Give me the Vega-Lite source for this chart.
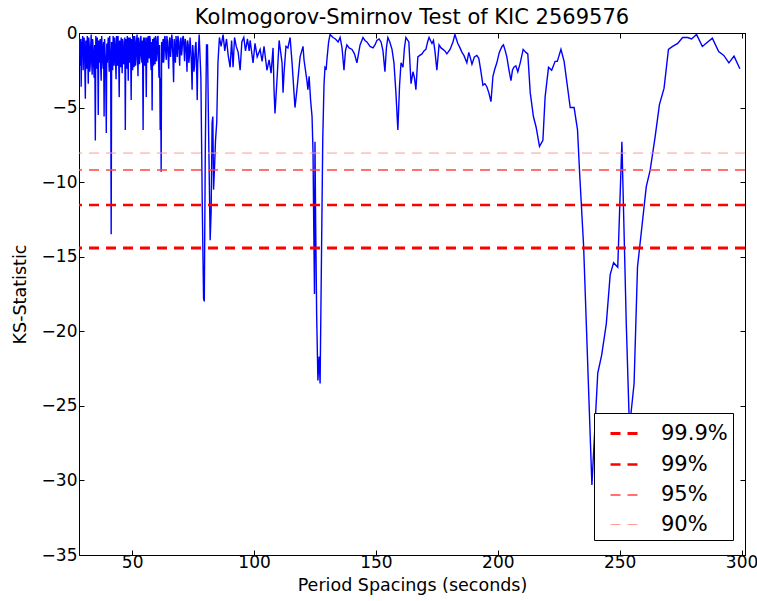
{
  "$schema": "https://vega.github.io/schema/vega-lite/v6.json",
  "width": 666,
  "height": 522,
  "autosize": "none",
  "padding": {"left": 79, "top": 33, "right": 12, "bottom": 46},
  "background": "white",
  "title": {"text": "Kolmogorov-Smirnov Test of KIC 2569576", "fontSize": 21, "font": "DejaVu Sans", "fontWeight": "normal", "color": "black", "offset": -4},
  "config": {
    "view": {"stroke": "black", "strokeWidth": 1},
    "axis": {"grid": false, "labelFont": "DejaVu Sans", "labelFontSize": 17, "labelColor": "black", "titleFont": "DejaVu Sans", "titleFontSize": 17.5, "titleFontWeight": "normal", "titleColor": "black", "domainColor": "black", "tickColor": "black", "tickSize": -5}
  },
  "datasets": {
    "ks": [
      {"p":28.4,"k":-0.3},{"p":28.6,"k":-1.5},{"p":28.8,"k":-2.2},{"p":28.95,"k":-0.4},{"p":29.1,"k":-3.6},{"p":29.3,"k":-0.6},{"p":29.5,"k":-1.0},{"p":29.7,"k":-0.2},{"p":29.9,"k":-2.5},{"p":30.1,"k":-1.1},{"p":30.3,"k":-0.3},{"p":30.55,"k":-1.8},{"p":30.8,"k":-4.4},{"p":31.0,"k":-0.5},{"p":31.2,"k":-1.2},{"p":31.4,"k":-2.4},{"p":31.6,"k":-0.2},{"p":31.8,"k":-1.4},{"p":32.0,"k":-3.4},{"p":32.2,"k":-0.3},{"p":32.4,"k":-0.8},{"p":32.6,"k":-2.6},{"p":32.8,"k":-2.2},{"p":33.0,"k":-0.9},{"p":33.2,"k":-0.1},{"p":33.4,"k":-1.9},{"p":33.6,"k":-2.8},{"p":33.8,"k":-0.4},{"p":34.0,"k":-1.0},{"p":34.2,"k":-2.1},{"p":34.4,"k":-3.0},{"p":34.65,"k":-0.8},{"p":34.9,"k":-7.2},{"p":35.1,"k":-0.2},{"p":35.3,"k":-1.5},{"p":35.5,"k":-2.4},{"p":35.7,"k":-0.3},{"p":35.9,"k":-1.6},{"p":36.1,"k":-5.5},{"p":36.3,"k":-0.5},{"p":36.5,"k":-2.0},{"p":36.7,"k":-1.2},{"p":36.9,"k":-0.4},{"p":37.1,"k":-2.3},{"p":37.3,"k":-3.2},{"p":37.5,"k":-0.2},{"p":37.7,"k":-0.9},{"p":37.9,"k":-1.8},{"p":38.1,"k":-2.4},{"p":38.3,"k":-0.6},{"p":38.5,"k":-5.6},{"p":38.7,"k":-0.4},{"p":38.9,"k":-1.3},{"p":39.15,"k":-2.2},{"p":39.4,"k":-6.7},{"p":39.6,"k":-0.7},{"p":39.8,"k":-2.0},{"p":40.0,"k":-1.0},{"p":40.2,"k":-0.3},{"p":40.4,"k":-1.7},{"p":40.6,"k":-2.6},{"p":40.8,"k":-0.2},{"p":41.0,"k":-1.2},{"p":41.2,"k":-2.0},{"p":41.4,"k":-13.5},{"p":41.6,"k":-0.6},{"p":41.8,"k":-1.8},{"p":42.0,"k":-2.5},{"p":42.2,"k":-0.2},{"p":42.4,"k":-1.1},{"p":42.6,"k":-2.2},{"p":42.8,"k":-0.3},{"p":43.0,"k":-0.8},{"p":43.2,"k":-1.9},{"p":43.4,"k":-3.1},{"p":43.6,"k":-0.2},{"p":43.8,"k":-1.0},{"p":44.0,"k":-2.2},{"p":44.2,"k":-0.2},{"p":44.45,"k":-1.3},{"p":44.7,"k":-4.3},{"p":44.9,"k":-0.5},{"p":45.1,"k":-1.4},{"p":45.3,"k":-2.3},{"p":45.5,"k":-0.3},{"p":45.7,"k":-1.0},{"p":45.9,"k":-2.7},{"p":46.1,"k":-0.4},{"p":46.3,"k":-0.6},{"p":46.55,"k":-2.1},{"p":46.8,"k":-1.9},{"p":47.0,"k":-0.3},{"p":47.2,"k":-6.5},{"p":47.4,"k":-0.4},{"p":47.6,"k":-1.2},{"p":47.8,"k":-2.4},{"p":48.0,"k":-0.2},{"p":48.2,"k":-1.2},{"p":48.4,"k":-3.2},{"p":48.6,"k":-0.3},{"p":48.8,"k":-1.0},{"p":49.0,"k":-2.0},{"p":49.2,"k":-0.3},{"p":49.4,"k":-1.4},{"p":49.6,"k":-4.5},{"p":49.8,"k":-0.4},{"p":50.0,"k":-1.5},{"p":50.2,"k":-2.5},{"p":50.4,"k":-0.2},{"p":50.6,"k":-1.0},{"p":50.8,"k":-2.3},{"p":51.0,"k":-0.2},{"p":51.2,"k":-0.5},{"p":51.4,"k":-2.2},{"p":51.6,"k":-1.8},{"p":51.8,"k":-0.6},{"p":52.0,"k":-0.1},{"p":52.2,"k":-1.4},{"p":52.4,"k":-2.9},{"p":52.6,"k":-0.3},{"p":52.8,"k":-0.7},{"p":53.0,"k":-2.1},{"p":53.2,"k":-1.6},{"p":53.4,"k":-0.4},{"p":53.6,"k":-0.2},{"p":53.8,"k":-1.5},{"p":54.0,"k":-2.0},{"p":54.25,"k":-0.5},{"p":54.5,"k":-6.5},{"p":54.7,"k":-0.3},{"p":54.9,"k":-1.1},{"p":55.1,"k":-2.2},{"p":55.3,"k":-0.3},{"p":55.55,"k":-1.1},{"p":55.8,"k":-4.3},{"p":56.0,"k":-0.3},{"p":56.2,"k":-1.0},{"p":56.4,"k":-2.0},{"p":56.6,"k":-0.2},{"p":56.8,"k":-0.9},{"p":57.0,"k":-1.7},{"p":57.2,"k":-0.2},{"p":57.4,"k":-0.4},{"p":57.6,"k":-1.9},{"p":57.8,"k":-2.5},{"p":58.0,"k":-0.6},{"p":58.2,"k":-5.2},{"p":58.4,"k":-0.4},{"p":58.6,"k":-1.3},{"p":58.8,"k":-2.2},{"p":59.0,"k":-0.3},{"p":59.2,"k":-0.8},{"p":59.4,"k":-2.1},{"p":59.6,"k":-0.2},{"p":59.8,"k":-0.6},{"p":60.0,"k":-1.9},{"p":60.2,"k":-1.4},{"p":60.4,"k":-0.3},{"p":60.6,"k":-0.2},{"p":60.8,"k":-1.5},{"p":61.0,"k":-3.0},{"p":61.25,"k":-0.8},{"p":61.5,"k":-6.5},{"p":61.7,"k":-3.0},{"p":61.9,"k":-9.3},{"p":62.1,"k":-0.6},{"p":62.3,"k":-2.0},{"p":62.5,"k":-1.0},{"p":62.7,"k":-0.4},{"p":62.9,"k":-2.0},{"p":63.1,"k":-1.5},{"p":63.3,"k":-0.3},{"p":63.5,"k":-0.2},{"p":63.75,"k":-1.2},{"p":64.0,"k":-1.8},{"p":64.25,"k":-0.2},{"p":64.5,"k":-0.6},{"p":64.75,"k":-1.5},{"p":65.0,"k":-2.4},{"p":65.25,"k":-0.5},{"p":65.5,"k":-0.3},{"p":65.75,"k":-1.6},{"p":66.0,"k":-1.0},{"p":66.25,"k":-0.1},{"p":66.5,"k":-0.5},{"p":66.75,"k":-1.8},{"p":67.0,"k":-3.3},{"p":67.25,"k":-0.4},{"p":67.5,"k":-1.2},{"p":67.75,"k":-2.0},{"p":68.0,"k":-0.2},{"p":68.25,"k":-0.9},{"p":68.5,"k":-1.6},{"p":68.75,"k":-0.2},{"p":69.0,"k":-0.4},{"p":69.25,"k":-1.3},{"p":69.5,"k":-2.2},{"p":69.75,"k":-0.6},{"p":70.0,"k":-0.3},{"p":70.25,"k":-1.5},{"p":70.5,"k":-1.1},{"p":70.75,"k":-0.3},{"p":71.0,"k":-0.2},{"p":71.25,"k":-1.0},{"p":71.5,"k":-1.9},{"p":71.75,"k":-0.4},{"p":72.0,"k":-0.6},{"p":72.25,"k":-1.4},{"p":72.5,"k":-2.6},{"p":72.75,"k":-0.5},{"p":73.0,"k":-0.8},{"p":73.25,"k":-2.0},{"p":73.5,"k":-1.5},{"p":73.75,"k":-0.3},{"p":74.0,"k":-0.9},{"p":74.3,"k":-2.0},{"p":74.6,"k":-3.8},{"p":74.85,"k":-0.8},{"p":75.1,"k":-1.4},{"p":75.35,"k":-2.6},{"p":75.6,"k":-2.2},{"p":75.9,"k":-0.9},{"p":76.2,"k":-0.6},{"p":76.45,"k":-2.4},{"p":76.7,"k":-4.5},{"p":76.9,"k":-2.0},{"p":77.1,"k":-1.5},{"p":77.5,"k":-0.1},{"p":78.2,"k":-3.0},{"p":78.8,"k":-12.0},{"p":79.3,"k":-17.8},{"p":79.6,"k":-18.0},{"p":80.0,"k":-8.0},{"p":80.5,"k":-0.8},{"p":80.9,"k":-0.8},{"p":81.4,"k":-7.0},{"p":82.0,"k":-13.9},{"p":82.4,"k":-12.0},{"p":82.8,"k":-6.0},{"p":83.1,"k":-5.6},{"p":83.4,"k":-10.5},{"p":83.8,"k":-9.0},{"p":84.2,"k":-7.2},{"p":84.7,"k":-6.0},{"p":85.2,"k":-2.0},{"p":85.8,"k":-0.3},{"p":86.5,"k":-0.9},{"p":87.3,"k":-0.1},{"p":88.0,"k":-1.2},{"p":88.7,"k":-0.4},{"p":89.4,"k":-1.5},{"p":90.2,"k":-2.3},{"p":90.8,"k":-0.5},{"p":91.4,"k":-2.3},{"p":92.0,"k":-0.3},{"p":92.7,"k":-0.9},{"p":93.5,"k":-1.3},{"p":94.3,"k":-2.5},{"p":95.0,"k":-0.6},{"p":95.8,"k":-0.3},{"p":96.5,"k":-1.2},{"p":97.3,"k":-0.4},{"p":98.0,"k":-1.2},{"p":98.4,"k":-0.5},{"p":99.6,"k":-2.0},{"p":100.4,"k":-0.7},{"p":101.3,"k":-1.6},{"p":102.5,"k":-1.1},{"p":103.3,"k":-1.9},{"p":104.1,"k":-0.9},{"p":105.3,"k":-2.5},{"p":106.2,"k":-1.8},{"p":107.0,"k":-2.7},{"p":107.8,"k":-1.0},{"p":108.2,"k":-3.8},{"p":108.6,"k":-5.4},{"p":109.5,"k":-2.9},{"p":110.3,"k":-0.5},{"p":111.5,"k":-2.0},{"p":111.9,"k":-4.0},{"p":112.3,"k":-2.7},{"p":113.1,"k":-0.9},{"p":113.9,"k":-1.0},{"p":114.8,"k":-0.3},{"p":115.6,"k":-2.0},{"p":116.8,"k":-5.0},{"p":117.6,"k":-3.8},{"p":118.9,"k":-1.6},{"p":120.1,"k":-0.9},{"p":120.5,"k":-1.8},{"p":121.7,"k":-3.2},{"p":122.1,"k":-3.8},{"p":122.6,"k":-2.9},{"p":123.2,"k":-4.5},{"p":123.8,"k":-5.6},{"p":124.2,"k":-8.0},{"p":124.5,"k":-13.0},{"p":124.8,"k":-17.5},{"p":125.0,"k":-7.3},{"p":125.3,"k":-13.0},{"p":125.7,"k":-19.0},{"p":126.2,"k":-23.3},{"p":126.7,"k":-21.7},{"p":127.1,"k":-23.5},{"p":127.6,"k":-16.0},{"p":128.2,"k":-7.0},{"p":128.7,"k":-3.5},{"p":129.1,"k":-2.3},{"p":129.6,"k":-2.4},{"p":130.0,"k":-1.6},{"p":130.6,"k":-0.6},{"p":131.2,"k":-0.1},{"p":131.8,"k":-0.2},{"p":132.4,"k":-0.3},{"p":133.4,"k":-0.4},{"p":134.5,"k":-0.6},{"p":135.3,"k":-0.3},{"p":136.1,"k":-1.0},{"p":136.9,"k":-2.5},{"p":137.5,"k":-1.2},{"p":138.1,"k":-0.8},{"p":139.0,"k":-1.0},{"p":140.2,"k":-1.1},{"p":141.2,"k":-1.4},{"p":142.2,"k":-2.0},{"p":143.5,"k":-0.8},{"p":144.7,"k":-0.3},{"p":145.5,"k":-0.5},{"p":146.3,"k":-0.6},{"p":147.6,"k":-0.9},{"p":148.8,"k":-1.0},{"p":149.6,"k":-0.8},{"p":150.4,"k":-0.5},{"p":151.3,"k":-0.4},{"p":152.1,"k":-0.6},{"p":152.9,"k":-1.2},{"p":153.7,"k":-2.6},{"p":154.3,"k":-1.0},{"p":154.9,"k":-0.3},{"p":155.7,"k":-0.6},{"p":156.6,"k":-1.1},{"p":157.4,"k":-2.0},{"p":158.2,"k":-4.0},{"p":159.0,"k":-6.5},{"p":159.7,"k":-3.5},{"p":160.3,"k":-2.0},{"p":161.1,"k":-2.3},{"p":161.7,"k":-1.0},{"p":162.3,"k":-0.3},{"p":163.5,"k":-0.6},{"p":164.4,"k":-3.4},{"p":165.2,"k":-2.6},{"p":165.8,"k":-3.0},{"p":166.4,"k":-3.8},{"p":167.2,"k":-1.6},{"p":168.0,"k":-1.5},{"p":168.9,"k":-1.4},{"p":169.7,"k":-1.2},{"p":170.5,"k":-1.1},{"p":171.2,"k":-0.6},{"p":171.8,"k":-0.3},{"p":172.4,"k":-0.5},{"p":173.0,"k":-0.7},{"p":173.6,"k":-0.5},{"p":174.2,"k":-1.2},{"p":175.0,"k":-2.5},{"p":175.9,"k":-0.8},{"p":176.7,"k":-1.0},{"p":177.5,"k":-1.1},{"p":178.3,"k":-1.2},{"p":179.1,"k":-1.4},{"p":180.4,"k":-1.1},{"p":181.6,"k":-0.6},{"p":182.4,"k":-0.1},{"p":183.6,"k":-0.7},{"p":184.5,"k":-1.0},{"p":185.3,"k":-1.3},{"p":186.1,"k":-1.5},{"p":187.3,"k":-2.0},{"p":188.1,"k":-1.3},{"p":188.8,"k":-1.7},{"p":189.4,"k":-2.1},{"p":190.4,"k":-1.6},{"p":191.4,"k":-1.5},{"p":192.2,"k":-1.7},{"p":193.0,"k":-2.5},{"p":193.9,"k":-3.5},{"p":194.7,"k":-3.4},{"p":195.5,"k":-3.6},{"p":196.3,"k":-4.0},{"p":197.2,"k":-4.6},{"p":198.0,"k":-2.9},{"p":198.8,"k":-2.4},{"p":199.6,"k":-2.0},{"p":200.6,"k":-1.3},{"p":201.7,"k":-0.9},{"p":202.3,"k":-0.8},{"p":202.9,"k":-1.1},{"p":203.7,"k":-1.6},{"p":204.6,"k":-2.5},{"p":205.4,"k":-3.2},{"p":206.0,"k":-2.5},{"p":206.6,"k":-2.3},{"p":207.4,"k":-2.2},{"p":208.2,"k":-2.6},{"p":209.2,"k":-2.0},{"p":210.4,"k":-1.1},{"p":211.5,"k":-1.3},{"p":212.3,"k":-1.4},{"p":213.3,"k":-4.0},{"p":214.6,"k":-5.6},{"p":215.7,"k":-6.3},{"p":217.1,"k":-7.6},{"p":218.5,"k":-7.2},{"p":219.4,"k":-4.3},{"p":220.8,"k":-2.3},{"p":222.1,"k":-2.5},{"p":223.5,"k":-1.9},{"p":224.4,"k":-1.9},{"p":225.9,"k":-1.1},{"p":227.2,"k":-1.9},{"p":229.7,"k":-5.0},{"p":231.3,"k":-5.0},{"p":232.7,"k":-6.5},{"p":233.6,"k":-9.5},{"p":235.2,"k":-14.3},{"p":238.6,"k":-30.3},{"p":241.0,"k":-22.8},{"p":242.6,"k":-21.6},{"p":244.5,"k":-19.5},{"p":246.1,"k":-16.2},{"p":247.5,"k":-15.4},{"p":249.2,"k":-15.7},{"p":250.9,"k":-7.3},{"p":252.7,"k":-19.5},{"p":254.0,"k":-26.5},{"p":255.9,"k":-23.5},{"p":257.3,"k":-15.7},{"p":260.9,"k":-10.3},{"p":262.5,"k":-9.2},{"p":264.5,"k":-7.0},{"p":266.3,"k":-4.8},{"p":268.2,"k":-3.7},{"p":270.0,"k":-1.1},{"p":271.7,"k":-0.9},{"p":273.8,"k":-0.7},{"p":275.8,"k":-0.3},{"p":277.9,"k":-0.3},{"p":279.5,"k":-0.4},{"p":281.5,"k":-0.1},{"p":283.9,"k":-0.9},{"p":288.0,"k":-0.35},{"p":290.6,"k":-1.25},{"p":292.7,"k":-1.5},{"p":294.8,"k":-2.0},{"p":296.9,"k":-1.55},{"p":299.3,"k":-2.4}
    ],
    "thr": [
      {"level": "99.9%", "v": -14.42},
      {"level": "99%", "v": -11.54},
      {"level": "95%", "v": -9.19},
      {"level": "90%", "v": -8.05}
    ]
  },
  "layer": [
    {
      "data": {"name": "ks"},
      "mark": {"type": "line", "color": "#0000ff", "strokeWidth": 1.4, "clip": true},
      "encoding": {
        "x": {"field": "p", "type": "quantitative", "scale": {"domain": [28.2, 301.4], "nice": false, "zero": false},
              "axis": {"orient": "bottom", "values": [50, 100, 150, 200, 250, 300], "title": "Period Spacings (seconds)", "labelPadding": 4, "titlePadding": 6}},
        "y": {"field": "k", "type": "quantitative", "scale": {"domain": [-35, 0], "nice": false, "zero": false},
              "axis": {"orient": "left", "values": [0, -5, -10, -15, -20, -25, -30, -35], "title": "KS-Statistic", "labelPadding": 7, "titlePadding": 12}}
      }
    },
    {
      "data": {"name": "ks"},
      "mark": {"type": "line", "opacity": 0},
      "encoding": {
        "x": {"field": "p", "type": "quantitative", "axis": {"orient": "top", "values": [50, 100, 150, 200, 250, 300], "labels": false, "title": null}},
        "y": {"field": "k", "type": "quantitative", "axis": {"orient": "right", "values": [0, -5, -10, -15, -20, -25, -30, -35], "labels": false, "title": null}}
      }
    },
    {
      "data": {"name": "thr"},
      "mark": {"type": "rule", "strokeDash": [10, 7]},
      "encoding": {
        "y": {"field": "v", "type": "quantitative", "axis": null},
        "color": {"field": "level", "type": "nominal",
                  "scale": {"domain": ["99.9%", "99%", "95%", "90%"], "range": ["#ff0000", "#ff0000", "#ff4444", "#ff9c9c"]},
                  "legend": {"orient": "none", "legendX": 515, "legendY": 380, "title": null, "fillColor": "white", "strokeColor": "black", "padding": 5, "symbolOffset": 10, "labelFont": "DejaVu Sans", "labelFontSize": 21, "labelColor": "black", "labelOffset": 21, "symbolType": "stroke", "symbolSize": 784, "symbolDash": [10, 7], "rowPadding": 5}},
        "strokeWidth": {"field": "level", "type": "nominal",
                        "scale": {"type": "ordinal", "domain": ["99.9%", "99%", "95%", "90%"], "range": [3, 2.5, 1.6, 1]}}
      }
    }
  ],
  "resolve": {"axis": {"x": "independent", "y": "independent"}}
}
